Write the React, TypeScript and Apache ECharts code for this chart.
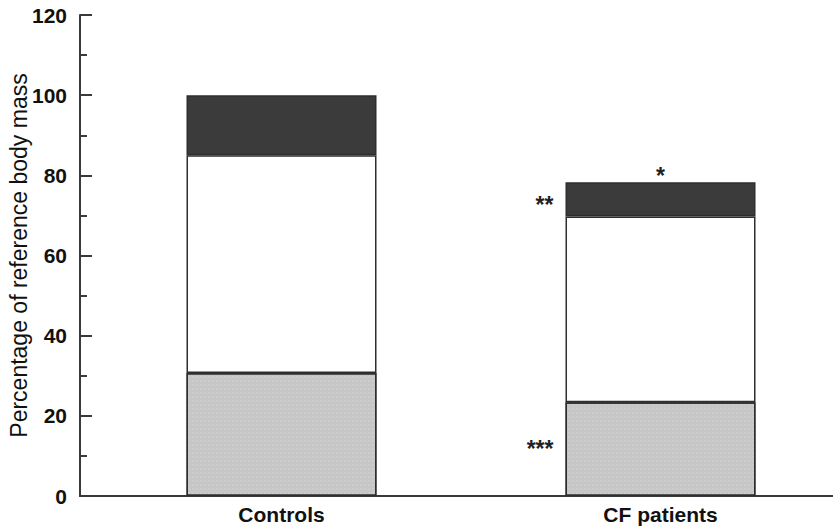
import React, { useEffect, useRef } from "react";
import * as echarts from "echarts";

const categories = ["Controls", "CF patients"];
const bottomValues = [30.7, 23.4];
const middleValues = [54.3, 46.3];
const topValues = [15.0, 8.6];
const yTicks = { min: 0, max: 120, interval: 20 };
const bottomMarks = ["", "***"];
const topSideMarks = ["", "**"];
const topAboveMarks = ["", "*"];

const FONT = "'Liberation Sans', Arial, Helvetica, sans-serif";
const AXIS = "#3a3a3a";

export default function App() {
  const ref = useRef<HTMLDivElement>(null);
  useEffect(() => {
    if (!ref.current) return;
    const chart = echarts.init(ref.current, undefined, { renderer: "svg" });
    const border = { borderColor: "#2e2e2e", borderWidth: 1.5 };
    const markLabel = (text: string, position: string, extra: any = {}) => ({
      show: text !== "",
      formatter: () => text,
      position,
      color: "#222",
      fontFamily: FONT,
      fontSize: 23,
      fontWeight: "bold",
      ...extra,
    });
    chart.setOption({
      animation: false,
      backgroundColor: "#ffffff",
      grid: { left: 92, width: 758, top: 15, height: 481, containLabel: false, outerBoundsMode: "none" },
      xAxis: {
        type: "category",
        data: categories,
        boundaryGap: true,
        axisLine: { lineStyle: { color: AXIS, width: 2 } },
        axisTick: { show: true, inside: true, alignWithLabel: true, length: 9, lineStyle: { color: AXIS, width: 2 } },
        axisLabel: { color: "#111", fontFamily: FONT, fontSize: 21, fontWeight: "bold", margin: 8 },
        splitLine: { show: false },
      },
      yAxis: {
        type: "value",
        min: yTicks.min,
        max: yTicks.max,
        interval: yTicks.interval,
        offset: 12,
        name: "Percentage of reference body mass",
        nameLocation: "middle",
        nameGap: 50,
        nameMoveOverlap: false,
        nameTextStyle: { color: "#111", fontFamily: FONT, fontSize: 23 },
        axisLine: { show: true, lineStyle: { color: AXIS, width: 2 } },
        axisTick: { show: true, inside: true, length: 12, lineStyle: { color: AXIS, width: 2 } },
        minorTick: { show: true, splitNumber: 2, length: 7, lineStyle: { color: AXIS, width: 2 } },
        axisLabel: { color: "#111", fontFamily: FONT, fontSize: 21, fontWeight: "bold", margin: 13 },
        splitLine: { show: false },
      },
      graphic: [
        { type: "line", shape: { x1: 79, y1: 496, x2: 93, y2: 496 }, style: { stroke: AXIS, lineWidth: 2 } },
      ],
      series: [
        {
          type: "bar",
          stack: "mass",
          barWidth: 190,
          data: bottomValues.map((v, i) => ({
            value: v,
            label: markLabel(bottomMarks[i], "left", { distance: 12, offset: [0, 0] }),
          })),
          itemStyle: {
            color: "#c6c6c6",
            ...border,
            decal: { symbol: "rect", symbolSize: 0.6, color: "rgba(255,255,255,0.35)", dashArrayX: [2, 2], dashArrayY: [2, 2], rotation: 0 },
          },
        },
        {
          type: "bar",
          stack: "mass",
          data: middleValues,
          itemStyle: { color: "#ffffff", ...border },
        },
        {
          type: "bar",
          stack: "mass",
          data: topValues.map((v, i) => ({
            value: v,
            label: markLabel(topSideMarks[i], "left", { distance: 12, offset: [0, 6] }),
          })),
          itemStyle: { color: "#3b3b3b", ...border },
        },
        {
          type: "bar",
          stack: "mass",
          data: topValues.map(() => 0),
          itemStyle: { color: "transparent", borderWidth: 0 },
          label: {
            show: true,
            position: "top",
            formatter: (p: any) => topAboveMarks[p.dataIndex],
            color: "#222",
            fontFamily: FONT,
            fontSize: 23,
            fontWeight: "bold",
            distance: -5,
          },
        },
      ],
    });
    return () => chart.dispose();
  }, []);
  return <div ref={ref} style={{ width: 833, height: 531, position: "absolute", left: 0, top: 0 }} />;
}
